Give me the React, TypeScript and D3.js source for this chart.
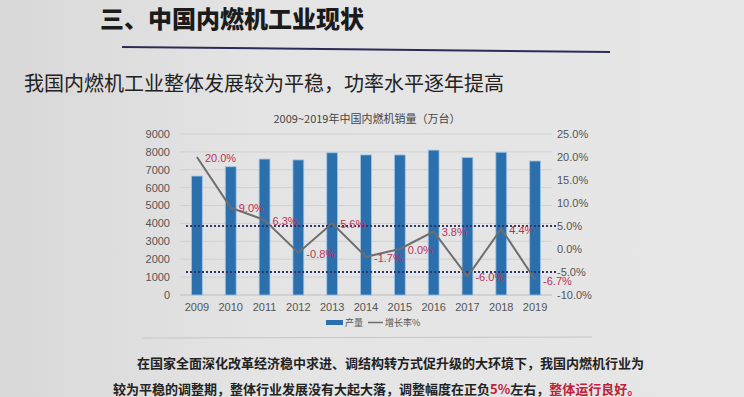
import React from "react";
import * as d3 from "d3";

// data
const years = ["2009", "2010", "2011", "2012", "2013", "2014", "2015", "2016", "2017", "2018", "2019"];
const output = [6650, 7170, 7600, 7550, 7950, 7830, 7830, 8100, 7680, 7980, 7490];
const growth = [20.0, 9.0, 6.3, -0.8, 5.6, -1.7, 0.0, 3.8, -6.0, 4.4, -6.7];
const leftTicks = [0, 1000, 2000, 3000, 4000, 5000, 6000, 7000, 8000, 9000];
const rightTicks = [-10, -5, 0, 5, 10, 15, 20, 25];
const refLines = [5, -5];

const CJK = "'Noto Sans CJK SC', 'Noto Sans', sans-serif";
const LAT = "'Liberation Sans', Arial, sans-serif";

export default function App() {
  const width = 744;
  const height = 397;
  const plot = { left: 180, right: 552, top: 134, bottom: 295 };

  const x = d3.scaleBand<string>().domain(years).range([plot.left, plot.right]);
  const barW = x.step() * 0.32;
  const yL = d3.scaleLinear().domain([0, 9000]).range([plot.bottom, plot.top]);
  const yR = d3.scaleLinear().domain([-10, 25]).range([plot.bottom, plot.top]);
  const cx = (y: string) => (x(y) ?? 0) + x.bandwidth() / 2;

  const line = d3
    .line<number>()
    .x((_, i) => cx(years[i]))
    .y((d) => yR(d));

  return (
    <svg
      width={width}
      height={height}
      style={{ position: "absolute", left: 0, top: 0 }}
    >
      <defs>
        <linearGradient id="bg" x1="0" x2="1" y1="0" y2="0">
          <stop offset="0" stopColor="#d8d8d8" />
          <stop offset="0.35" stopColor="#e4e4e4" />
          <stop offset="1" stopColor="#e6e6e6" />
        </linearGradient>
      </defs>
      <rect width={width} height={height} fill="url(#bg)" />

      {/* slide heading */}
      <text x={100} y={28} fontFamily={CJK} fontWeight={900} fontSize={24} fill="#1b1b1b">
        三、中国内燃机工业现状
      </text>
      <line x1={122} y1={47} x2={610} y2={52} stroke="#2c2c58" strokeWidth={2} />
      <text x={24} y={91} fontFamily={CJK} fontSize={20} fill="#222">
        我国内燃机工业整体发展较为平稳，功率水平逐年提高
      </text>

      {/* chart title */}
      <text x={367} y={123} textAnchor="middle" fontFamily={CJK} fontSize={11} fill="#444">
        2009~2019年中国内燃机销量（万台）
      </text>

      {/* grid */}
      {leftTicks.map((t) => (
        <line
          key={t}
          x1={plot.left}
          x2={plot.right}
          y1={yL(t)}
          y2={yL(t)}
          stroke={t === 0 ? "#bdbdbd" : "#d0d0d0"}
          strokeWidth={1}
        />
      ))}

      {/* left axis */}
      {leftTicks.map((t) => (
        <text
          key={t}
          x={170}
          y={yL(t)}
          dy="0.35em"
          textAnchor="end"
          fontFamily={LAT}
          fontSize={11}
          fill="#555"
        >
          {t}
        </text>
      ))}

      {/* right axis */}
      {rightTicks.map((t) => (
        <text
          key={t}
          x={557}
          y={yR(t)}
          dy="0.35em"
          fontFamily={LAT}
          fontSize={11}
          fill="#555"
        >
          {t.toFixed(1) + "%"}
        </text>
      ))}

      {/* bars */}
      {years.map((yr, i) => (
        <rect
          key={yr}
          x={cx(yr) - barW / 2}
          y={yL(output[i])}
          width={barW}
          height={yL(0) - yL(output[i])}
          fill="#2b6fad"
          stroke="#9ec4e6"
          strokeWidth={0.8}
        />
      ))}

      {/* x labels */}
      {years.map((yr) => (
        <text
          key={yr}
          x={cx(yr)}
          y={307}
          dy="0.35em"
          textAnchor="middle"
          fontFamily={LAT}
          fontSize={11}
          fill="#555"
        >
          {yr}
        </text>
      ))}

      {/* +-5% reference lines */}
      {refLines.map((r) => (
        <line
          key={r}
          x1={186}
          x2={556}
          y1={yR(r)}
          y2={yR(r)}
          stroke="#2f3566"
          strokeWidth={2}
          strokeDasharray="2,2"
        />
      ))}

      {/* growth line */}
      <path d={line(growth) ?? ""} fill="none" stroke="#6e6e6e" strokeWidth={2} />
      {growth.map((g, i) => (
        <text
          key={i}
          x={cx(years[i]) + 8}
          y={yR(g) + 1}
          dy="0.35em"
          fontFamily={LAT}
          fontSize={11}
          fill="#b8325a"
        >
          {g.toFixed(1) + "%"}
        </text>
      ))}

      {/* legend */}
      <rect x={326} y={320} width={17} height={5} fill="#2b6fad" />
      <text x={345} y={323} dy="0.35em" fontFamily={CJK} fontSize={9} fill="#555">
        产量
      </text>
      <line x1={368} x2={383} y1={322.5} y2={322.5} stroke="#6e6e6e" strokeWidth={1.5} />
      <text x={385} y={323} dy="0.35em" fontFamily={CJK} fontSize={9} fill="#555">
        增长率%
      </text>

      <line x1={142} x2={592} y1={338} y2={337} stroke="#c6c6c6" strokeWidth={1} />

      {/* bottom notes */}
      <text x={137} y={368} fontFamily={CJK} fontWeight={700} fontSize={13} fill="#222">
        在国家全面深化改革经济稳中求进、调结构转方式促升级的大环境下，我国内燃机行业为
      </text>
      <text x={113} y={394} fontFamily={CJK} fontWeight={700} fontSize={13} fill="#222">
        较为平稳的调整期，整体行业发展没有大起大落，调整幅度在正负
        <tspan fill="#c0213a">5%</tspan>
        左右，
        <tspan fill="#c0213a">整体运行良好。</tspan>
      </text>
    </svg>
  );
}
